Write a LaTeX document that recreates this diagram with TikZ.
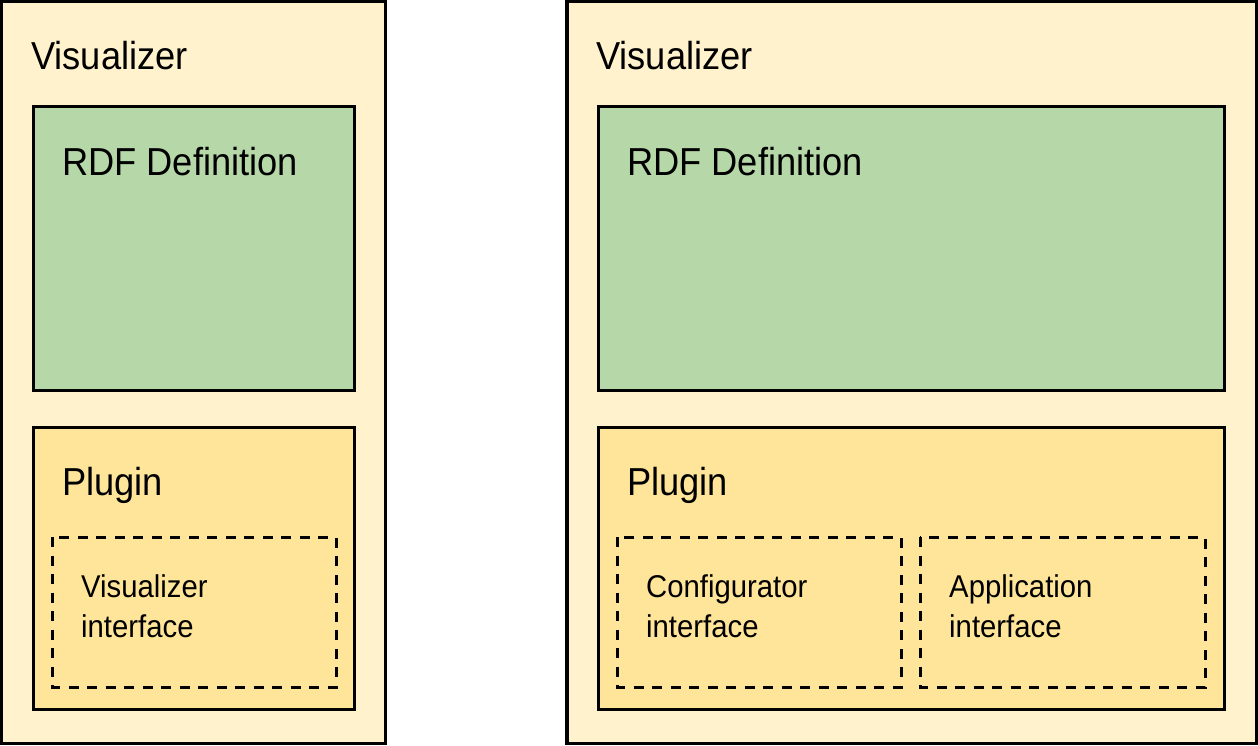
\documentclass[tikz,border=0pt]{standalone}
\usepackage{fontspec}
\setmainfont{Liberation Sans}[FakeStretch=0.93]
\definecolor{outerfill}{HTML}{FFF2CC}
\definecolor{greenfill}{HTML}{B6D7A8}
\definecolor{plugfill}{HTML}{FFE599}
\begin{document}
\begin{tikzpicture}[x=1pt,y=-1pt,
  outerbox/.style={draw=black,line width=3.2pt,fill=outerfill},
  defbox/.style={draw=black,line width=3pt,fill=greenfill},
  plugbox/.style={draw=black,line width=3pt,fill=plugfill},
  ifacebox/.style={draw=black,line width=3pt,dash pattern=on 10pt off 8.5pt},
  bigtxt/.style={anchor=base west,inner sep=0pt,font=\fontsize{39}{44}\selectfont},
  smalltxt/.style={anchor=base west,inner sep=0pt,font=\fontsize{31.5}{40}\selectfont,align=left}]
\useasboundingbox (0,0) rectangle (1258,746);
% left
\draw[outerbox] (1.8,1.8) rectangle (385.5,743.5);
\draw[defbox] (33,107) rectangle (354,390);
\draw[plugbox] (33,427) rectangle (354,709);
\draw[ifacebox] (52,537) rectangle (336,687);
\node[bigtxt] (lv) at (31,70) {Visualizer};
\node[bigtxt] (lr) at (62,176) {RDF Definition};
\node[bigtxt] (lp) at (62,495) {Plugin};
\node[smalltxt] (li) at (81,637) {Visualizer\\interface};
% right
\draw[outerbox] (567,1.8) rectangle (1256.2,743.5);
\draw[defbox] (598,107) rectangle (1224,390);
\draw[plugbox] (598,427) rectangle (1224,709);
\draw[ifacebox] (617,537) rectangle (901,687);
\draw[ifacebox] (920,537) rectangle (1205,687);
\node[bigtxt] (rv) at (596,70) {Visualizer};
\node[bigtxt] (rr) at (627,176) {RDF Definition};
\node[bigtxt] (rp) at (627,495) {Plugin};
\node[smalltxt] (rc) at (646,637) {Configurator\\interface};
\node[smalltxt] (ra) at (949,637) {Application\\interface};
\end{tikzpicture}
\end{document}
